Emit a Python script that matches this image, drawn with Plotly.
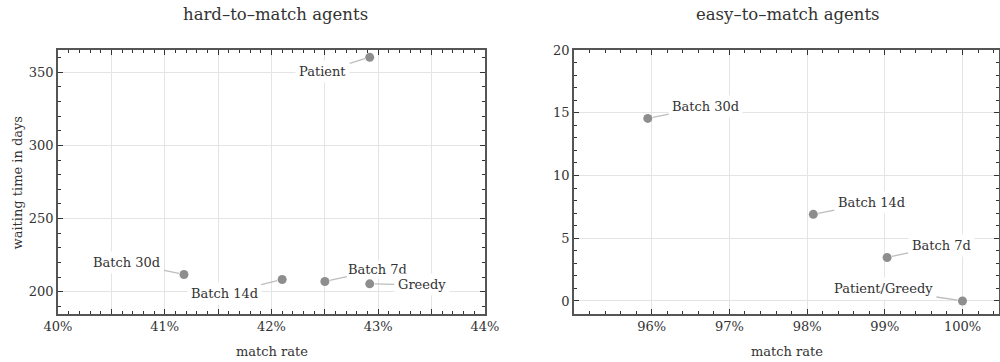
import plotly.graph_objects as go

# ---- data ----
hard_labels = ["Patient", "Batch 30d", "Batch 14d", "Batch 7d", "Greedy"]
hard_match_rate = [42.92, 41.18, 42.10, 42.50, 42.92]
hard_wait_days = [360.2, 211.8, 208.4, 207.0, 205.4]

easy_labels = ["Batch 30d", "Batch 14d", "Batch 7d", "Patient/Greedy"]
easy_match_rate = [95.95, 98.08, 99.03, 100.0]
easy_wait_days = [14.55, 6.9, 3.46, 0.0]

hard_xticks = [40, 40.5, 41, 41.5, 42, 42.5, 43, 43.5, 44]
hard_xticktext = ["40%", "", "41%", "", "42%", "", "43%", "", "44%"]
easy_xticks = [96, 97, 98, 99, 100]
easy_xticktext = ["96%", "97%", "98%", "99%", "100%"]

# label offsets (pixels) relative to the point, and box padding
hard_offsets = [(-47, 14), (-57, -12), (-58, 14), (53, -12), (52, 1)]
hard_pads = [3, 3, 3, 1, 3]
easy_offsets = [(58, -12), (58, -12), (54, -12), (-79, -12)]
easy_pads = [3, 3, 3, 3]

FONT = "DejaVu Serif"
MARK = "#8e8e8e"
AXC = "#555555"
GRID = "#e4e4e4"

fig = go.Figure()
fig.add_trace(go.Scatter(x=hard_match_rate, y=hard_wait_days, mode="markers",
                         marker=dict(color=MARK, size=9), xaxis="x", yaxis="y",
                         showlegend=False, hoverinfo="skip"))
fig.add_trace(go.Scatter(x=easy_match_rate, y=easy_wait_days, mode="markers",
                         marker=dict(color=MARK, size=9), xaxis="x2", yaxis="y2",
                         showlegend=False, hoverinfo="skip"))

common = dict(showline=True, linecolor=AXC, linewidth=1.5, mirror="allticks",
              ticks="inside", ticklen=5, tickwidth=1, tickcolor="#333",
              showgrid=True, gridcolor=GRID, gridwidth=1, zeroline=False,
              tickfont=dict(family=FONT, size=13, color="#333"),
              automargin=False)

ydom = [48 / 362, 312 / 362]

fig.update_layout(
    width=1000, height=362,
    margin=dict(l=0, r=0, t=0, b=0),
    paper_bgcolor="white", plot_bgcolor="white",
    font=dict(family=FONT, size=13, color="#333"),
    xaxis=dict(domain=[0.058, 0.485], range=[40, 44], tickmode="array",
               tickvals=hard_xticks, ticktext=hard_xticktext, anchor="y",
               minor=dict(dtick=0.1, tick0=40, ticklen=3, ticks="inside",
                          tickcolor="#333", showgrid=False), **common),
    yaxis=dict(domain=ydom, range=[184.8, 365.2], dtick=50, tick0=0, anchor="x",
               minor=dict(dtick=10, tick0=0, ticklen=3, ticks="inside",
                          tickcolor="#333", showgrid=False), **common),
    xaxis2=dict(domain=[0.574, 0.999], range=[95.0, 100.47], tickmode="array",
                tickvals=easy_xticks, ticktext=easy_xticktext, anchor="y2",
                minor=dict(dtick=0.2, tick0=95, ticklen=3, ticks="inside",
                           tickcolor="#333", showgrid=False), **common),
    yaxis2=dict(domain=ydom, range=[-1.04, 20], dtick=5, tick0=0, anchor="x2",
                minor=dict(dtick=1, tick0=0, ticklen=3, ticks="inside",
                           tickcolor="#333", showgrid=False), **common),
)

annots = []
for lab, x, y, (ax, ay), pad in zip(hard_labels, hard_match_rate, hard_wait_days,
                                    hard_offsets, hard_pads):
    annots.append(dict(x=x, y=y, xref="x", yref="y", text=lab, showarrow=True,
                       ax=ax, ay=ay, arrowhead=0, arrowwidth=1.3, arrowcolor="#bdbdbd",
                       standoff=5, bgcolor="white", borderpad=pad,
                       font=dict(family=FONT, size=13, color="#333")))
for lab, x, y, (ax, ay), pad in zip(easy_labels, easy_match_rate, easy_wait_days,
                                    easy_offsets, easy_pads):
    annots.append(dict(x=x, y=y, xref="x2", yref="y2", text=lab, showarrow=True,
                       ax=ax, ay=ay, arrowhead=0, arrowwidth=1.3, arrowcolor="#bdbdbd",
                       standoff=5, bgcolor="white", borderpad=pad,
                       font=dict(family=FONT, size=13, color="#333")))

# panel titles
annots.append(dict(text="hard–to–match agents", xref="paper", yref="paper",
                   x=0.2755, y=(362 - 14) / 362, showarrow=False,
                   xanchor="center", yanchor="middle",
                   font=dict(family=FONT, size=16.5, color="#333")))
annots.append(dict(text="easy–to–match agents", xref="paper", yref="paper",
                   x=0.788, y=(362 - 14) / 362, showarrow=False,
                   xanchor="center", yanchor="middle",
                   font=dict(family=FONT, size=16.5, color="#333")))
# axis titles
annots.append(dict(text="match rate", xref="paper", yref="paper",
                   x=0.2715, y=(362 - 351.5) / 362, showarrow=False,
                   xanchor="center", yanchor="middle",
                   font=dict(family=FONT, size=13, color="#333")))
annots.append(dict(text="match rate", xref="paper", yref="paper",
                   x=0.7865, y=(362 - 351.5) / 362, showarrow=False,
                   xanchor="center", yanchor="middle",
                   font=dict(family=FONT, size=13, color="#333")))
annots.append(dict(text="waiting time in days", xref="paper", yref="paper",
                   x=17 / 1000, y=(362 - 182.5) / 362, showarrow=False,
                   textangle=-90, xanchor="center", yanchor="middle",
                   font=dict(family=FONT, size=13, color="#333")))

fig.update_layout(annotations=annots)
fig.write_html("out.html")
